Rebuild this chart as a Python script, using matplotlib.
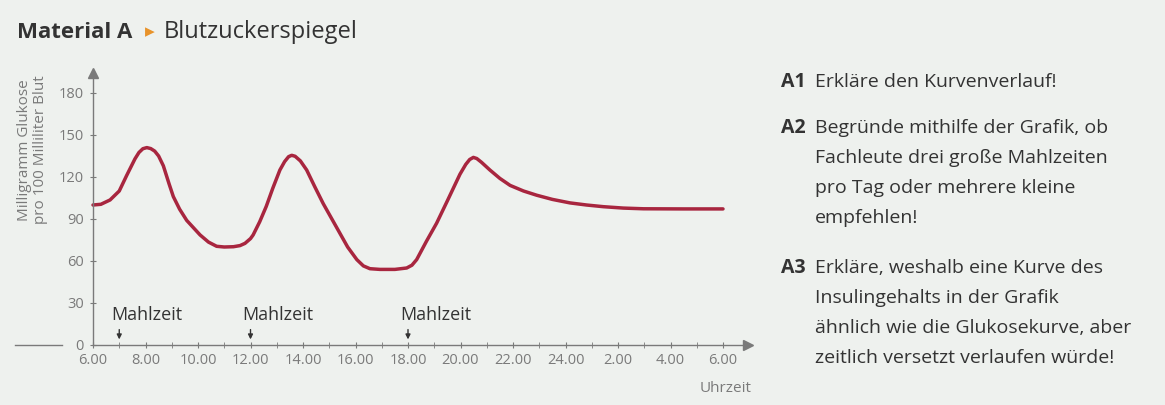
import matplotlib.pyplot as plt

# Blutzuckerspiegel ueber 24 h (Stunden ab 0 Uhr, >24 = naechster Tag)
stunden = [6.0, 6.3, 6.65, 7.0, 7.28, 7.6, 7.75, 7.9, 8.05, 8.2, 8.35, 8.5, 8.68, 8.9,
           9.06, 9.3, 9.57, 10.08, 10.4, 10.71, 11.0, 11.35, 11.6, 11.79, 12.0, 12.1,
           12.35, 12.6, 12.85, 13.12, 13.3, 13.45, 13.57, 13.7, 13.9, 14.14, 14.45, 14.77,
           15.1, 15.4, 15.7, 16.05, 16.3, 16.55, 16.93, 17.5, 17.95, 18.15, 18.33, 18.7,
           19.09, 19.5, 19.98, 20.2, 20.35, 20.49, 20.62, 20.8, 21.12, 21.5, 21.89, 22.4,
           22.9, 23.5, 24.17, 24.8, 25.44, 26.2, 26.97, 28.5, 30.0]
glukose = [100, 100.5, 103.6, 110, 121, 133, 137.5, 140.2, 141, 140.3, 138.5, 135, 128, 115,
           106, 97, 89, 78.6, 73.5, 70.5, 70, 70.2, 71, 72.6, 76, 78.6,
           88, 99, 112, 125, 131, 134.5, 135.5, 134.8, 131.5, 125, 113, 101,
           90, 80, 70, 61, 56.5, 54.5, 54, 54, 55, 57, 61, 74,
           87, 103, 122, 129, 132.5, 134, 133.2, 130.5, 125, 119, 114, 110,
           107, 104, 101.5, 100, 98.8, 97.8, 97.3, 97.2, 97.2]

mahlzeiten = [7, 12, 18]
x_ticks = [6, 8, 10, 12, 14, 16, 18, 20, 22, 24, 26, 28, 30]
x_labels = ['6.00', '8.00', '10.00', '12.00', '14.00', '16.00', '18.00', '20.00',
            '22.00', '24.00', '2.00', '4.00', '6.00']
y_ticks = [0, 30, 60, 90, 120, 150, 180]

bg = '#eef1ee'
grey = '#7a7a7a'
dark = '#333333'
kurve = '#a8263f'
plt.rcParams['font.family'] = ['Open Sans', 'DejaVu Sans']

fig = plt.figure(figsize=(11.65, 4.05), dpi=100, facecolor=bg)
ax = fig.add_axes([15 / 1165, 60 / 405, 735 / 1165, 275.8 / 405])
ax.set_facecolor(bg)
ax.set_xlim(6 - 78 / 26.25, 6 + 657 / 26.25)
ax.set_ylim(0, 197)

ax.plot(stunden, glukose, color=kurve, lw=2.5, solid_capstyle='round', solid_joinstyle='round')

# axes with arrows
for s in ['top', 'right']:
    ax.spines[s].set_visible(False)
ax.spines['left'].set_position(('data', 6))
ax.spines['left'].set_bounds(0, 193)
ax.spines['bottom'].set_bounds(6, 30.9)
for s in ['left', 'bottom']:
    ax.spines[s].set_color(grey)
    ax.spines[s].set_linewidth(1.0)
ax.plot([30.95], [0], marker='>', color=grey, ms=7, clip_on=False)
ax.plot([6], [194], marker='^', color=grey, ms=7, clip_on=False)
ax.plot([3.03, 4.82], [0, 0], color=grey, lw=1.0, clip_on=False)

ax.set_xticks(x_ticks)
ax.set_xticklabels(x_labels)
ax.set_xticks(range(6, 31), minor=True)
ax.set_yticks(y_ticks)
ax.tick_params(axis='both', which='both', direction='inout', color=grey, labelcolor=grey,
               labelsize=10.5)
ax.tick_params(axis='x', which='major', length=5, pad=3)
ax.tick_params(axis='x', which='minor', length=4)
ax.tick_params(axis='y', length=5, pad=4)

for m in mahlzeiten:
    ax.annotate('', xy=(m, 2), xytext=(m, 13),
                arrowprops=dict(arrowstyle='-|>', color=dark, lw=1.0, mutation_scale=7))
    ax.text(m - 0.3, 21.5, 'Mahlzeit', fontsize=13, color=dark, ha='left', va='center')

fig.text(752 / 1165, 1 - 389 / 405, 'Uhrzeit', fontsize=11, color=grey, ha='right', va='center')
fig.text(25 / 1165, 1 - 150 / 405, 'Milligramm Glukose', rotation=90, fontsize=11,
         color=grey, ha='center', va='center')
fig.text(41 / 1165, 1 - 150 / 405, 'pro 100 Milliliter Blut', rotation=90, fontsize=11,
         color=grey, ha='center', va='center')

# title
fig.text(17 / 1165, 1 - 32 / 405, 'Material A', fontsize=16, fontweight='bold', color=dark,
         va='center')
fig.text(145 / 1165, 1 - 32 / 405, '\u25B8', fontsize=14, color='#e8932a', va='center')
fig.text(164 / 1165, 1 - 32 / 405, 'Blutzuckerspiegel', fontsize=17, color=dark, va='center')

# questions
aufgaben = [('A1', 81.7, ['Erkläre den Kurvenverlauf!']),
            ('A2', 128.3, ['Begründe mithilfe der Grafik, ob', 'Fachleute drei große Mahlzeiten',
                           'pro Tag oder mehrere kleine', 'empfehlen!']),
            ('A3', 268.3, ['Erkläre, weshalb eine Kurve des', 'Insulingehalts in der Grafik',
                           'ähnlich wie die Glukosekurve, aber', 'zeitlich versetzt verlaufen würde!'])]
for label, y0, lines in aufgaben:
    fig.text(781 / 1165, 1 - y0 / 405, label, fontsize=14, fontweight='bold', color=dark,
             va='center')
    for i, line in enumerate(lines):
        fig.text(815 / 1165, 1 - (y0 + 30 * i) / 405, line, fontsize=14, color=dark,
                 va='center')

fig.savefig('out.png', dpi=100, facecolor=bg)
